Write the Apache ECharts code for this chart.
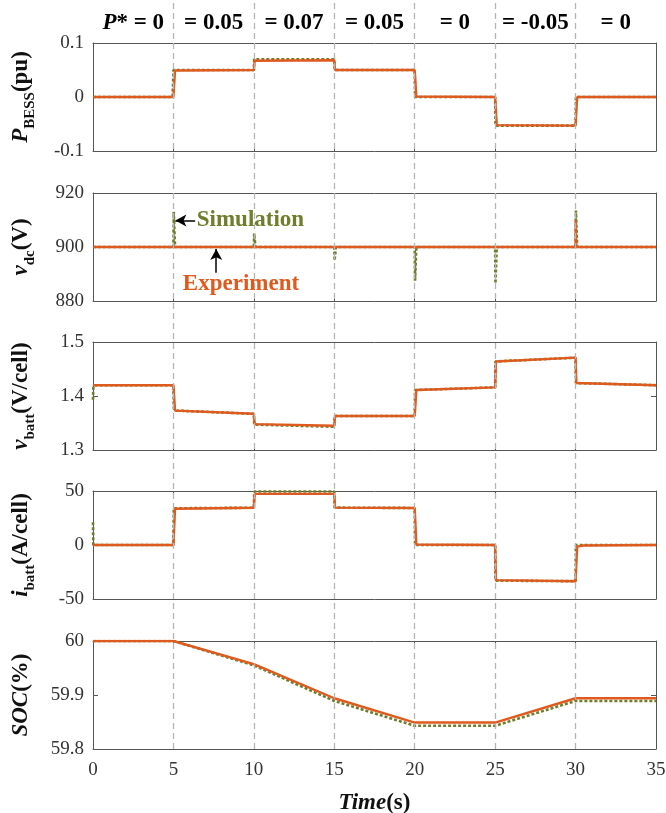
<!DOCTYPE html>
<html><head><meta charset="utf-8">
<script src="https://cdn.jsdelivr.net/npm/echarts@6/dist/echarts.min.js"></script>
<style>html,body{margin:0;padding:0;background:#fff}#c{width:666px;height:813px}</style>
</head><body><div id="c"></div>
<script>
// ---------- data ----------
const stepTimes = [5, 10, 15, 20, 25, 30];
const segCenters = [2.5, 7.5, 12.5, 17.5, 22.5, 27.5, 32.5];
const topLabels = ['{bi|P}{b|* = 0}', '{b|= 0.05}', '{b|= 0.07}', '{b|= 0.05}', '{b|= 0}', '{b|= -0.05}', '{b|= 0}'];

// P_BESS (pu)
const tPExp = [0, 5.0, 5.1, 10.0, 10.05, 15.0, 15.05, 20.0, 20.1, 25.0, 25.1, 30.0, 30.1, 35];
const pExp  = [0, 0, 0.049, 0.050, 0.067, 0.068, 0.050, 0.050, 0.001, 0.000, -0.052, -0.053, 0.000, 0.000];
const tPSim = [0, 4.95, 5.0, 10.0, 10.02, 15.0, 15.02, 20.0, 20.02, 25.0, 25.02, 30.0, 30.02, 35];
const pSim  = [0, 0, 0.050, 0.050, 0.070, 0.070, 0.050, 0.050, 0, 0, -0.053, -0.053, 0, 0];

// v_dc (V)
const tVdcExp = [0, 30.0, 30.01, 30.04, 35];
const vdcExp  = [900, 900, 910, 900, 900];
const tVdcSim = [0, 5.0, 5.02, 5.1, 10.0, 10.02, 10.1, 15.0, 15.02, 15.1, 20.0, 20.02, 20.1, 25.0, 25.02, 25.1, 30.0, 30.02, 30.1, 35];
const vdcSim  = [900, 900, 913, 900, 900, 905, 900, 900, 895, 900, 900, 887.5, 900, 900, 886.5, 900, 900, 913.5, 900, 900];

// v_batt (V/cell)
const tVbExp = [0, 5.0, 5.1, 10.0, 10.05, 15.0, 15.05, 20.0, 20.1, 25.0, 25.05, 30.0, 30.05, 35];
const vbExp  = [1.420, 1.420, 1.373, 1.367, 1.348, 1.345, 1.363, 1.363, 1.411, 1.416, 1.464, 1.471, 1.424, 1.420];
const tVbSim = [0, 0.02, 0.1, 5.0, 5.02, 5.2, 10.0, 10.02, 15.0, 15.02, 20.0, 20.02, 25.0, 25.02, 30.0, 30.02, 35];
const vbSim  = [1.393, 1.415, 1.420, 1.420, 1.377, 1.373, 1.367, 1.347, 1.343, 1.363, 1.363, 1.411, 1.416, 1.464, 1.471, 1.424, 1.420];

// i_batt (A/cell)
const tIbExp = [0, 5.0, 5.1, 10.0, 10.05, 15.0, 15.05, 20.0, 20.1, 25.0, 25.05, 30.0, 30.1, 30.5, 35];
const ibExp  = [0, 0, 33.5, 34.5, 47.3, 47.3, 34.6, 34.3, 0.5, 0, -32.5, -33.5, -1.5, -0.5, 0];
const tIbSim = [0, 0.02, 5.0, 5.02, 10.0, 10.02, 15.0, 15.02, 20.0, 20.02, 25.0, 25.02, 30.0, 30.02, 35];
const ibSim  = [21, 0, 0, 34, 34.5, 49.5, 49.5, 34.6, 34.3, 0, 0, -33, -33.5, 0, 0];

// SOC (%)
const tSoc   = [0, 5, 10, 15, 20, 25, 30, 35];
const socExp = [60, 60, 59.957, 59.894, 59.849, 59.849, 59.894, 59.894];
const socSim = [60, 60, 59.955, 59.889, 59.843, 59.843, 59.889, 59.889];

// y axes
const yMins = [-0.1, 880, 1.3, -50, 59.8];
const yMaxs = [0.1, 920, 1.5, 50, 60];
const yIntervals = [0.1, 20, 0.1, 50, 0.1];
const yNames = ['{bi|P}{sub|BESS}{b|(pu)}', '{bi|v}{sub|dc}{b|(V)}', '{bi|v}{sub|batt}{b|(V/cell)}', '{bi|i}{sub|batt}{b|(A/cell)}', '{bi|SOC}{b|(%)}'];

// annotations (data coordinates in the v_dc panel)
const simText = 'Simulation', expText = 'Experiment';
const simTextPos = [6.45, 909.8], simArrow = [[6.35, 909.8], [5.12, 909.8]];
const expTextPos = [9.2, 886.4], expArrow = [[7.66, 890.5], [7.66, 899.3]];

// ---------- chart ----------
const FONT = "'Liberation Serif','Times New Roman',serif";
const ORANGE = '#DF5A1F', GREEN = '#6f7d2c', AXC = '#555';
const zip = (t, v) => t.map((x, i) => [x, v[i]]);
const tops = [43, 193, 342, 491, 641];
const H = 108;

const richName = {
  bi: {fontFamily: FONT, fontWeight: 'bold', fontStyle: 'italic', fontSize: 23, color: '#111', lineHeight: 28},
  b:  {fontFamily: FONT, fontWeight: 'bold', fontSize: 23, color: '#111', lineHeight: 28},
  sub:{fontFamily: FONT, fontWeight: 'bold', fontSize: 15, color: '#111', lineHeight: 14, verticalAlign: 'bottom', padding: [0,0,-3,0]}
};

const axLine = {show: true, onZero: false, lineStyle: {color: AXC, width: 1}};
const axTick = {show: true, inside: true, length: 5, lineStyle: {color: AXC}};

const grids = [], xAxes = [], yAxes = [], series = [];
for (let i = 0; i < 5; i++) {
  grids.push({left: 93, right: 10, top: tops[i], height: H, containLabel: false, outerBoundsMode: 'none'});
  const last = i === 4;
  xAxes.push({
    gridIndex: i, type: 'value', min: 0, max: 35, interval: 5, position: 'bottom',
    axisLine: axLine, axisTick: axTick,
    axisLabel: {show: last, fontFamily: FONT, fontSize: 19, color: '#333', margin: 12},
    splitLine: {show: false},
    name: last ? '{bi|Time}{b|(s)}' : '', nameLocation: 'middle', nameGap: 40,
    nameTextStyle: {rich: richName}
  });
  xAxes.push({
    gridIndex: i, type: 'value', min: 0, max: 35, interval: 5, position: 'top',
    axisLine: axLine, axisTick: axTick,
    axisLabel: {show: false}, splitLine: {show: false}
  });
  yAxes.push({
    gridIndex: i, type: 'value', min: yMins[i], max: yMaxs[i], interval: yIntervals[i], position: 'left',
    axisLine: axLine, axisTick: axTick,
    axisLabel: {fontFamily: FONT, fontSize: 19, color: '#333', margin: 9},
    splitLine: {show: false},
    name: yNames[i], nameLocation: 'middle', nameRotate: 90, nameGap: 58,
    nameTextStyle: {rich: richName}
  });
  yAxes.push({
    gridIndex: i, type: 'value', min: yMins[i], max: yMaxs[i], interval: yIntervals[i], position: 'right',
    axisLine: axLine, axisTick: axTick,
    axisLabel: {show: false}, splitLine: {show: false}
  });
}
// overlay grid for dashed step lines and top labels
grids.push({left: 93, right: 10, top: 0, bottom: 813 - 749, containLabel: false, outerBoundsMode: 'none'});
xAxes.push({gridIndex: 5, type: 'value', min: 0, max: 35, show: false});
yAxes.push({gridIndex: 5, type: 'value', min: 0, max: 1, show: false});

series.push({
  type: 'line', xAxisIndex: 10, yAxisIndex: 10, data: [], z: 1, silent: true,
  markLine: {
    silent: true, symbol: ['none', 'none'], label: {show: false},
    lineStyle: {color: '#b5b5b5', type: [6, 4], width: 1.3},
    data: stepTimes.map(t => [{coord: [t, 0]}, {coord: [t, 1]}])
  }
});
series.push({
  type: 'scatter', xAxisIndex: 10, yAxisIndex: 10, symbolSize: 0, z: 5, silent: true,
  itemStyle: {opacity: 1},
  data: segCenters.map((x, i) => ({value: [x, 1 - 23 / 749], label: {formatter: topLabels[i]}})),
  label: {show: true, position: 'inside', opacity: 1,
    rich: {
      bi: {fontFamily: FONT, fontWeight: 'bold', fontStyle: 'italic', fontSize: 23, color: '#000'},
      b:  {fontFamily: FONT, fontWeight: 'bold', fontSize: 23, color: '#000'}
    }}
});

const panels = [
  [zip(tPSim, pSim), zip(tPExp, pExp)],
  [zip(tVdcSim, vdcSim), zip(tVdcExp, vdcExp)],
  [zip(tVbSim, vbSim), zip(tVbExp, vbExp)],
  [zip(tIbSim, ibSim), zip(tIbExp, ibExp)],
  [zip(tSoc, socSim), zip(tSoc, socExp)]
];
panels.forEach((p, i) => {
  series.push({type: 'line', xAxisIndex: 2 * i, yAxisIndex: 2 * i, data: p[0], showSymbol: false, z: 3,
    lineStyle: {color: GREEN, width: 2.6, type: [3, 2]}, animation: false});
  series.push({type: 'line', xAxisIndex: 2 * i, yAxisIndex: 2 * i, data: p[1], showSymbol: false, z: 4,
    lineStyle: {color: ORANGE, width: 2.4}, animation: false});
});

// annotations in v_dc panel
series.push({
  type: 'scatter', xAxisIndex: 2, yAxisIndex: 2, symbolSize: 0, z: 6, silent: true,
  itemStyle: {opacity: 1},
  data: [
    {value: simTextPos, label: {formatter: simText, color: GREEN, position: 'right', distance: 0}},
    {value: expTextPos, label: {formatter: expText, color: ORANGE, position: 'inside'}}
  ],
  label: {show: true, opacity: 1, fontFamily: FONT, fontWeight: 'bold', fontSize: 23},
  markLine: {
    silent: true, symbol: ['none', 'arrow'], symbolSize: [9, 11], label: {show: false},
    lineStyle: {color: '#000', type: 'solid', width: 1.5, opacity: 1},
    data: [
      [{coord: simArrow[0]}, {coord: simArrow[1]}],
      [{coord: expArrow[0]}, {coord: expArrow[1]}]
    ]
  }
});

const chart = echarts.init(document.getElementById('c'), null, {renderer: 'canvas'});
chart.setOption({animation: false, backgroundColor: '#fff', grid: grids, xAxis: xAxes, yAxis: yAxes, series: series});
</script>
</body></html>
